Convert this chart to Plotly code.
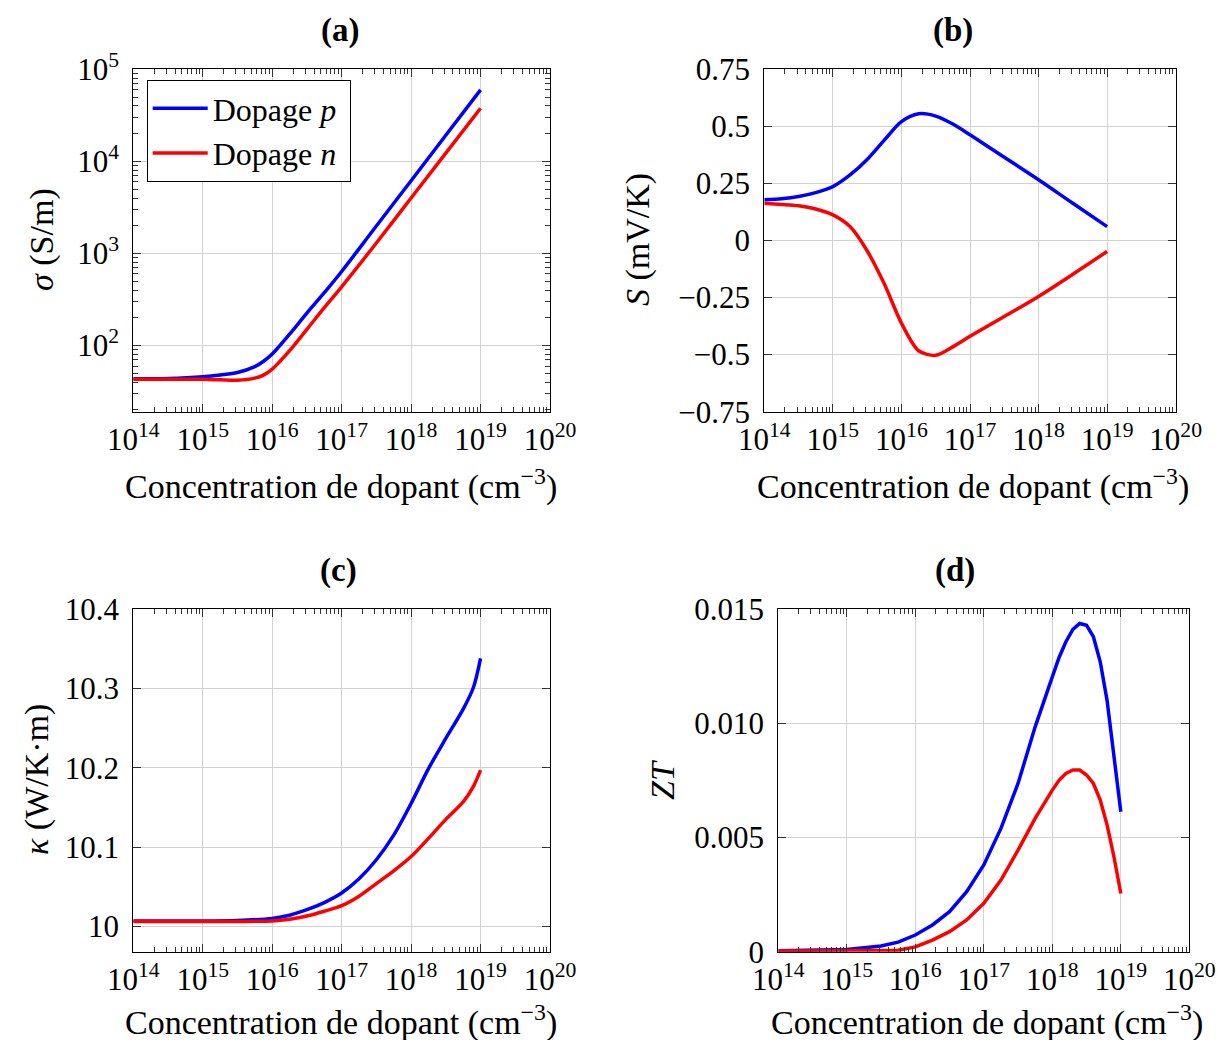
import plotly.graph_objects as go

# ---------------- data ----------------
# (a) electrical conductivity sigma (S/m) vs dopant concentration (cm^-3)
a_conc = [1e14, 3.16e14, 1e15, 1.78e15, 3.16e15, 5.62e15, 7.6e15, 1e16, 1.26e16, 1.78e16,
          3.16e16, 5.62e16, 1e17, 3.16e17, 1e18, 3.16e18, 1e19]
a_sigma_p = [43.5, 44, 46, 48, 51, 59, 68, 81, 98, 133, 225, 375, 638, 1990, 6170,
             19200, 59700]
a_sigma_n = [43, 43, 43, 42.5, 42, 44.3, 48, 55.5, 66, 88, 150, 258, 435, 1300, 4000,
             12300, 37800]

# (b) Seebeck coefficient S (mV/K)
b_conc = [1e14, 1.78e14, 3.16e14, 5.62e14, 1e15, 1.78e15, 3.16e15, 5.62e15, 1e16,
          1.78e16, 3.16e16, 5.62e16, 1e17, 3.16e17, 1e18, 3.16e18, 1e19]
b_S_p = [0.178, 0.183, 0.193, 0.21, 0.236, 0.287, 0.355, 0.44, 0.521,
         0.555, 0.545, 0.51, 0.463, 0.365, 0.266, 0.163, 0.061]
b_S_n = [0.163, 0.158, 0.152, 0.138, 0.112, 0.061, -0.045, -0.19, -0.362,
         -0.483, -0.503, -0.466, -0.42, -0.333, -0.245, -0.148, -0.048]

# (c) thermal conductivity kappa (W/K.m)
c_conc = [1e14, 1e15, 3.16e15, 1e16, 1.78e16, 3.16e16, 5.62e16, 1e17, 1.78e17,
          3.16e17, 5.62e17, 1e18, 1.78e18, 3.16e18, 5.62e18, 7.94e18, 1e19]
c_k_p = [10.0067, 10.0068, 10.0075, 10.010, 10.014, 10.021, 10.030, 10.042, 10.060,
         10.084, 10.115, 10.155, 10.199, 10.237, 10.274, 10.302, 10.338]
c_k_n = [10.006, 10.006, 10.0062, 10.0068, 10.009, 10.013, 10.019, 10.026, 10.038,
         10.054, 10.070, 10.088, 10.111, 10.135, 10.157, 10.177, 10.197]

# (d) figure of merit ZT
d_conc = [1e14, 3.16e14, 1e15, 3.16e15, 5.62e15, 1e16, 1.78e16, 3.16e16, 5.62e16,
          1e17, 1.78e17, 3.16e17, 5.62e17, 1e18, 1.26e18, 1.58e18, 2e18, 2.51e18,
          3.16e18, 3.98e18, 5.01e18, 6.31e18, 7.94e18, 1e19]
d_ZT_p = [0.00004, 0.00006, 0.0001, 0.00025, 0.00042, 0.00073, 0.00117, 0.00175, 0.00263,
          0.0038, 0.0054, 0.00737, 0.00985, 0.01204, 0.0129, 0.01358, 0.01412, 0.01438,
          0.0143, 0.0138, 0.0127, 0.0110, 0.00869, 0.00613]
d_ZT_n = [0.00003, 0.00003, 0.00003, 0.00004, 0.00006, 0.00021, 0.00051, 0.00088, 0.00139,
          0.00212, 0.00314, 0.00445, 0.00584, 0.00708, 0.00752, 0.00781, 0.00796, 0.00796,
          0.00774, 0.00737, 0.00664, 0.00555, 0.00416, 0.00255]

x_tickvals = [1e14, 1e15, 1e16, 1e17, 1e18, 1e19, 1e20]
x_ticktext = ["10<sup>14</sup>", "10<sup>15</sup>", "10<sup>16</sup>", "10<sup>17</sup>",
              "10<sup>18</sup>", "10<sup>19</sup>", "10<sup>20</sup>"]
a_yvals = [1e2, 1e3, 1e4, 1e5]
a_ytext = ["10<sup>2</sup>", "10<sup>3</sup>", "10<sup>4</sup>", "10<sup>5</sup>"]
b_yvals = [-0.75, -0.5, -0.25, 0, 0.25, 0.5, 0.75]
b_ytext = ["\u22120.75", "\u22120.5", "\u22120.25", "0", "0.25", "0.5", "0.75"]
c_yvals = [10, 10.1, 10.2, 10.3, 10.4]
c_ytext = ["10", "10.1", "10.2", "10.3", "10.4"]
d_yvals = [0, 0.005, 0.010, 0.015]
d_ytext = ["0", "0.005", "0.010", "0.015"]

# ---------------- figure ----------------
OFF = 8                      # page body margin of the browser
W, H = 1224 - OFF, 1040 - OFF
FONT = "Liberation Serif"
BLUE, RED = "#0000ff", "#ff0000"
LW = 3.5
TICKSIZE = 31
TITLESIZE = 34

fig = go.Figure()

panels = [
    ("x", "y", a_conc, a_sigma_p, a_sigma_n, True, "spline", 1.0),
    ("x2", "y2", b_conc, b_S_p, b_S_n, False, "spline", 0.8),
    ("x3", "y3", c_conc, c_k_p, c_k_n, False, "spline", 0.8),
    ("x4", "y4", d_conc, d_ZT_p, d_ZT_n, False, "linear", 0.8),
]
for xa, ya, xs, yp, yn, leg, shape, sm in panels:
    fig.add_trace(go.Scatter(x=xs, y=yp, mode="lines", name="Dopage <i>p</i>\u00a0",
                             line=dict(color=BLUE, width=LW, shape=shape, smoothing=sm),
                             xaxis=xa, yaxis=ya, showlegend=leg))
    fig.add_trace(go.Scatter(x=xs, y=yn, mode="lines", name="Dopage <i>n</i>\u00a0",
                             line=dict(color=RED, width=LW, shape=shape, smoothing=sm),
                             xaxis=xa, yaxis=ya, showlegend=leg))


def px(x):
    return (x - OFF) / W


def py(y):
    return 1 - (y - OFF) / H


minor_x = [float(k) * 10.0 ** e for e in range(14, 20) for k in range(2, 10)]
minor_y_log = [float(k) * 10.0 ** e for e in range(1, 5) for k in range(2, 10)]

common = dict(showline=True, linecolor="black", linewidth=1, mirror="allticks",
              ticks="inside", ticklen=8, tickcolor="#333", tickwidth=1,
              showgrid=True, gridcolor="#d2d2d2", gridwidth=1, zeroline=False,
              automargin=False,
              tickfont=dict(family=FONT, size=TICKSIZE, color="black"))
ycommon = dict(common, ticklabelstandoff=7)

top = [py(411.7), py(69.3)]
bot = [py(951.7), py(609.3)]
left = [px(133.3), px(550)]
right_b = [px(764.3), px(1175.7)]
right_d = [px(778.3), px(1189.3)]

xcommon = dict(common, type="log", range=[14, 20], tickmode="array",
               tickvals=x_tickvals, ticktext=x_ticktext,
               minor=dict(tickmode="array", tickvals=minor_x, ticks="inside",
                          ticklen=5, tickcolor="#333", showgrid=False))

fig.update_layout(
    template="none",
    width=W, height=H, margin=dict(l=0, r=0, t=0, b=0, autoexpand=False),
    paper_bgcolor="white", plot_bgcolor="white",
    font=dict(family=FONT, size=TICKSIZE, color="black"),
    xaxis=dict(xcommon, domain=left, anchor="y"),
    yaxis=dict(ycommon, domain=top, anchor="x", type="log", range=[1.282, 5],
               tickmode="array", tickvals=a_yvals, ticktext=a_ytext,
               minor=dict(tickmode="array", tickvals=minor_y_log, ticks="inside",
                          ticklen=5, tickcolor="#333", showgrid=False)),
    xaxis2=dict(xcommon, domain=right_b, anchor="y2"),
    yaxis2=dict(ycommon, domain=top, anchor="x2", range=[-0.75, 0.75],
                tickmode="array", tickvals=b_yvals, ticktext=b_ytext),
    xaxis3=dict(xcommon, domain=left, anchor="y3"),
    yaxis3=dict(ycommon, domain=bot, anchor="x3", range=[9.968, 10.4],
                tickmode="array", tickvals=c_yvals, ticktext=c_ytext),
    xaxis4=dict(xcommon, domain=right_d, anchor="y4"),
    yaxis4=dict(ycommon, domain=bot, anchor="x4", range=[0, 0.015],
                tickmode="array", tickvals=d_yvals, ticktext=d_ytext),
    legend=dict(x=px(146.7), y=py(80), xanchor="left", yanchor="top",
                bgcolor="white", bordercolor="black", borderwidth=1,
                font=dict(family=FONT, size=32, color="black"),
                tracegroupgap=0, itemwidth=55),
)

annots = []
# panel titles
for txt, x, y in [("(a)", 340, 30), ("(b)", 953, 30), ("(c)", 338, 570), ("(d)", 955, 570)]:
    annots.append(dict(text="<b>" + txt + "</b>", x=px(x), y=py(y), xref="paper", yref="paper",
                       showarrow=False, xanchor="center", yanchor="middle",
                       font=dict(family=FONT, size=TITLESIZE - 1, color="black")))
# x axis titles
xt = "Concentration de dopant (cm<sup>\u22123</sup>)"
for x, y in [(341, 485), (973, 485), (341, 1020), (987, 1020)]:
    annots.append(dict(text=xt, x=px(x), y=py(y), xref="paper", yref="paper",
                       showarrow=False, xanchor="center", yanchor="middle",
                       font=dict(family=FONT, size=TITLESIZE, color="black")))
# y axis titles
for txt, x, y in [("<i>\u03c3</i> (S/m)", 42, 240), ("<i>S</i> (mV/K)", 638, 240),
                  ("<i>\u03ba</i> (W/K\u00b7m)", 37, 780), ("<i>ZT</i>", 662, 780)]:
    annots.append(dict(text=txt, x=px(x), y=py(y), xref="paper", yref="paper",
                       showarrow=False, xanchor="center", yanchor="middle", textangle=-90,
                       font=dict(family=FONT, size=TITLESIZE, color="black")))
fig.update_layout(annotations=annots)

fig.write_html("out.html")
